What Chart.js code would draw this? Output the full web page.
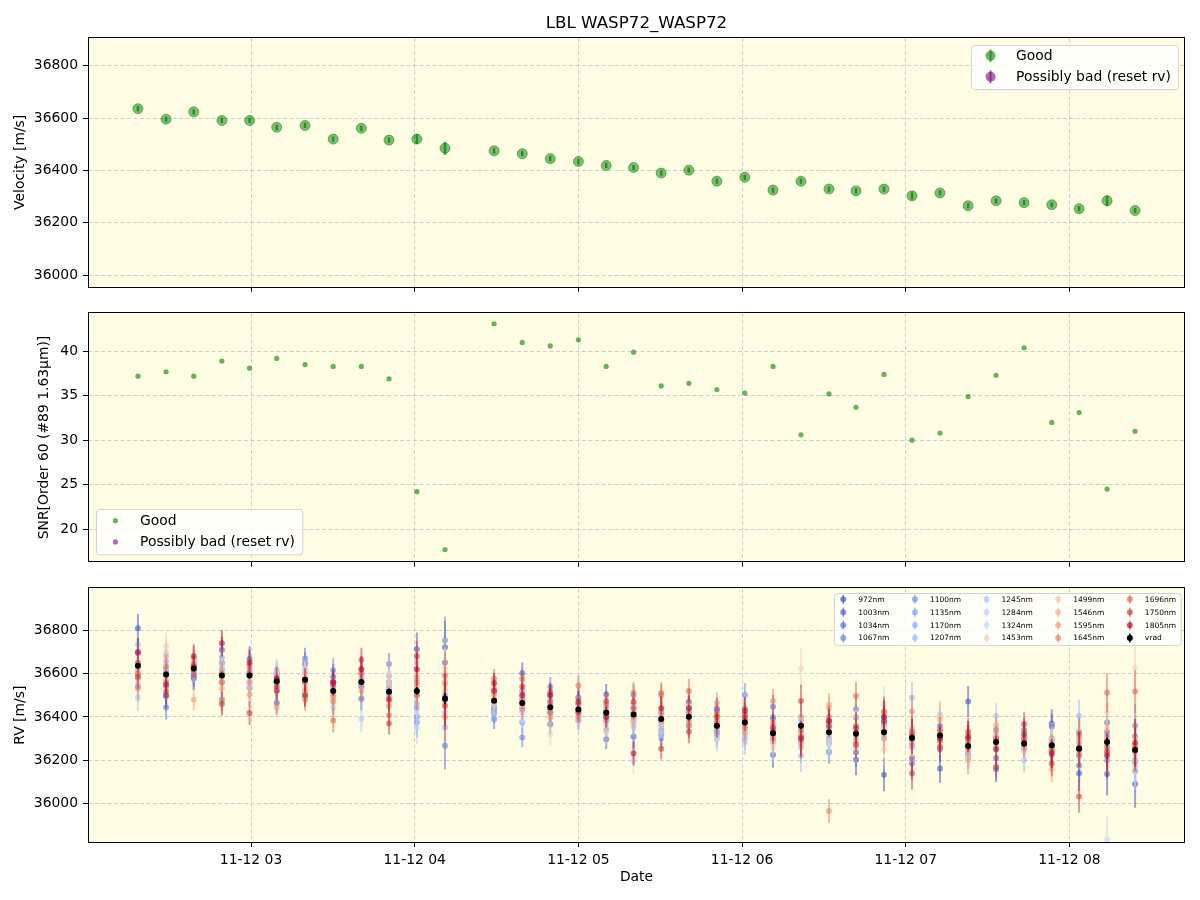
<!DOCTYPE html>
<html>
<head>
<meta charset="utf-8">
<title>LBL WASP72_WASP72</title>
<script src="https://cdn.jsdelivr.net/npm/chart.js@4.4.1/dist/chart.umd.min.js"></script>
<style>
  body { margin: 0; background: #fff; }
  #wrap { position: relative; width: 1200px; height: 900px; }
  canvas { position: absolute; left: 0; }
</style>
</head>
<body>
<div id="wrap">
  <canvas id="velChart" width="1200" height="300" style="top:0"></canvas>
  <canvas id="snrChart" width="1200" height="275" style="top:300px"></canvas>
  <canvas id="rvChart" width="1200" height="325" style="top:575px"></canvas>
</div>
<script>
// observation times, decimal hours on 11-12
const obsHours = [2.309, 2.481, 2.650, 2.822, 2.991, 3.157, 3.330, 3.502, 3.674, 3.843, 4.013, 4.185,
  4.485, 4.657, 4.828, 5.000, 5.170, 5.337, 5.506, 5.675, 5.846, 6.017, 6.189, 6.360,
  6.531, 6.696, 6.867, 7.038, 7.209, 7.381, 7.552, 7.723, 7.892, 8.059, 8.230, 8.401];
const hourTicks = [3, 4, 5, 6, 7, 8];

// top panel: LBL velocity
const velocity = [36636, 36596, 36624, 36591, 36591, 36565, 36572, 36520, 36561, 36516, 36520, 36485,
  36475, 36464, 36445, 36434, 36419, 36411, 36390, 36401, 36359, 36374, 36325, 36359,
  36329, 36322, 36329, 36303, 36314, 36265, 36284, 36277, 36269, 36254, 36284, 36247];
const velocityErr = [10, 10, 10, 10, 10, 10, 10, 10, 10, 10, 18, 25,
  10, 10, 10, 10, 10, 10, 10, 10, 10, 10, 10, 10,
  10, 10, 10, 14, 10, 10, 10, 10, 10, 10, 20, 10];
const velTicks = [36000, 36200, 36400, 36600, 36800];

// middle panel: SNR of order 60
const snr = [37.2, 37.7, 37.2, 38.9, 38.1, 39.2, 38.5, 38.3, 38.3, 36.9, 24.2, 17.7,
  43.1, 41.0, 40.6, 41.3, 38.3, 39.9, 36.1, 36.4, 35.7, 35.3, 38.3, 30.6,
  35.2, 33.7, 37.4, 30.0, 30.8, 34.9, 37.3, 40.4, 32.0, 33.1, 24.5, 31.0];
const snrTicks = [20, 25, 30, 35, 40];

// bottom panel: per-band RV
const wavelengths = [972, 1003, 1034, 1067, 1100, 1135, 1170, 1207, 1245, 1284, 1324, 1453, 1499, 1546, 1595, 1645, 1696, 1750, 1805];
const rv972 = [36810, 36500, 36580, 36710, 36667, 36464, 36500, 36584, 36540, 36520, 36713, 36722, 36520, 36602, 36470, 36420, 36503, 36308, 36380, 36469, 36430, 36400, 36225, 36310, 36350, 36202, 36133, 36210, 36162, 36471, 36159, 36290, 36369, 36140, 36136, 36090];
const rv1003 = [36694, 36495, 36600, 36560, 36600, 36520, 36648, 36560, 36484, 36560, 36560, 36651, 36440, 36520, 36366, 36489, 36297, 36400, 36420, 36440, 36380, 36412, 36447, 36360, 36382, 36236, 36380, 36185, 36250, 36230, 36210, 36340, 36355, 36175, 36374, 36310];
const rv1034 = [36540, 36443, 36590, 36650, 36535, 36602, 36670, 36520, 36600, 36645, 36400, 36267, 36389, 36480, 36420, 36460, 36400, 36501, 36320, 36420, 36440, 36440, 36390, 36300, 36300, 36397, 36400, 36300, 36359, 36260, 36340, 36300, 36250, 36220, 36330, 36200];
const rv1067 = [36600, 36612, 36640, 36480, 36560, 36560, 36600, 36616, 36560, 36540, 36374, 36754, 36415, 36305, 36539, 36385, 36420, 36440, 36340, 36360, 36330, 36501, 36400, 36400, 36330, 36435, 36360, 36280, 36300, 36280, 36300, 36270, 36300, 36280, 36310, 36359];
const rv1100 = [36650, 36560, 36578, 36620, 36600, 36580, 36560, 36561, 36580, 36500, 36500, 36500, 36430, 36374, 36500, 36400, 36340, 36420, 36300, 36400, 36320, 36360, 36320, 36340, 36240, 36330, 36300, 36330, 36330, 36250, 36280, 36260, 36280, 36330, 36200, 36150];
const rv1135 = [36580, 36657, 36610, 36673, 36620, 36540, 36580, 36540, 36620, 36589, 36460, 36560, 36460, 36440, 36440, 36490, 36380, 36460, 36360, 36380, 36340, 36380, 36300, 36380, 36280, 36360, 36340, 36320, 36290, 36300, 36310, 36250, 36260, 36260, 36260, 36190];
const rv1170 = [36620, 36600, 36630, 36600, 36640, 36600, 36640, 36500, 36540, 36530, 36440, 36351, 36440, 36500, 36460, 36460, 36440, 36380, 36410, 36420, 36300, 36300, 36340, 36260, 36236, 36300, 36380, 36260, 36350, 36220, 36260, 36300, 36240, 36250, 36230, 36195];
const rv1207 = [36733, 36685, 36660, 36648, 36610, 36619, 36620, 36530, 36600, 36520, 36402, 36480, 36420, 36460, 36480, 36440, 36460, 36360, 36400, 36440, 36350, 36320, 36310, 36221, 36300, 36280, 36320, 36489, 36330, 36240, 36340, 36198, 36290, 36405, 36280, 36230];
const rv1245 = [36490, 36620, 36670, 36625, 36590, 36590, 36580, 36443, 36390, 36560, 36650, 36420, 36450, 36420, 36430, 36420, 36400, 36420, 36380, 36400, 36330, 36282, 36280, 36360, 36320, 36320, 36350, 36300, 36412, 36230, 36405, 36280, 36220, 36300, 36300, 36260];
const rv1284 = [36560, 36540, 36650, 36580, 36560, 36570, 36560, 36480, 36560, 36500, 36351, 36600, 36470, 36380, 36420, 36400, 36360, 36350, 36360, 36380, 36310, 36340, 36300, 36300, 36270, 36260, 36330, 36350, 36290, 36260, 36250, 36260, 36280, 36240, 36240, 36170];
const rv1324 = [36600, 36700, 36620, 36600, 36540, 36600, 36600, 36520, 36580, 36540, 36420, 36460, 36460, 36470, 36400, 36380, 36430, 36198, 36330, 36410, 36300, 36360, 36260, 36380, 36300, 36340, 36458, 36280, 36320, 36210, 36270, 36240, 36270, 36310, 35833, 36200];
const rv1453 = [36640, 36726, 36660, 36640, 36580, 36610, 36590, 36500, 36620, 36600, 36600, 36627, 36500, 36450, 36320, 36440, 36330, 36460, 36400, 36450, 36360, 36440, 36320, 36622, 36330, 36400, 36350, 36320, 36300, 36280, 36300, 36300, 36300, 36290, 36420, 36627];
const rv1499 = [36610, 36680, 36657, 36564, 36600, 36570, 36600, 36520, 36600, 36560, 36560, 36560, 36480, 36520, 36440, 36420, 36420, 36420, 36440, 36380, 36380, 36420, 36330, 36400, 36350, 36360, 36251, 36300, 36400, 36240, 36270, 36260, 36270, 36270, 36350, 36300];
const rv1546 = [36590, 36590, 36640, 36532, 36560, 36550, 36539, 36504, 36560, 36474, 36520, 36520, 36470, 36460, 36460, 36460, 36440, 36380, 36420, 36420, 36400, 36380, 36287, 36340, 36440, 36300, 36300, 36340, 36389, 36250, 36330, 36290, 36250, 36300, 36300, 36260];
const rv1595 = [36530, 36569, 36480, 36470, 36503, 36443, 36560, 36490, 36520, 36500, 36540, 36549, 36500, 36480, 36397, 36400, 36385, 36400, 36380, 36390, 36380, 36330, 36300, 36310, 36455, 36280, 36330, 36270, 36320, 36201, 36360, 36280, 36159, 36260, 36280, 36240];
const rv1645 = [36600, 36540, 36610, 36560, 36630, 36560, 36520, 36470, 36600, 36450, 36581, 36400, 36530, 36435, 36470, 36430, 36460, 36512, 36500, 36360, 36464, 36350, 36474, 36330, 35965, 36330, 36420, 36425, 36290, 36290, 36290, 36270, 36260, 36230, 36260, 36270];
const rv1696 = [36650, 36633, 36640, 36600, 36600, 36540, 36480, 36383, 36560, 36408, 36500, 36589, 36576, 36576, 36420, 36545, 36420, 36440, 36510, 36520, 36412, 36410, 36369, 36280, 36400, 36497, 36425, 36330, 36340, 36300, 36300, 36300, 36240, 36320, 36512, 36517];
const rv1750 = [36585, 36516, 36630, 36460, 36418, 36523, 36500, 36550, 36664, 36369, 36680, 36450, 36520, 36540, 36515, 36420, 36474, 36470, 36253, 36333, 36400, 36390, 36330, 36474, 36360, 36270, 36380, 36140, 36262, 36330, 36170, 36366, 36185, 36032, 36240, 36250];
const rv1805 = [36700, 36550, 36680, 36740, 36650, 36580, 36570, 36560, 36620, 36480, 36620, 36480, 36555, 36500, 36500, 36470, 36400, 36231, 36440, 36440, 36360, 36430, 36350, 36300, 36380, 36350, 36400, 36310, 36300, 36310, 36250, 36320, 36230, 36250, 36220, 36280];
const rvBands = [rv972, rv1003, rv1034, rv1067, rv1100, rv1135, rv1170, rv1207, rv1245, rv1284, rv1324, rv1453, rv1499, rv1546, rv1595, rv1645, rv1696, rv1750, rv1805];
// typical band error at each epoch, and relative size per band
const rvErrEpoch = [60, 55, 50, 55, 55, 45, 50, 55, 55, 50, 70, 110, 45, 45, 45, 45, 45, 50, 50, 55, 50, 55, 55, 75, 55, 65, 70, 75, 60, 65, 55, 55, 60, 75, 90, 100];
const rvErrBand = [1.1, 1.0, 1.0, 1.0, 1.0, 0.95, 0.95, 1.0, 1.05, 1.1, 1.2, 1.25, 1.1, 1.0, 1.0, 1.0, 1.0, 1.0, 1.1];

const X_MIN = 2.004, X_MAX = 8.706;
const panelBg = 'rgb(254,252,226)';
const gridColor = 'rgba(176,176,192,0.6)';
const FS = 13.9;

Chart.defaults.font.family = 'DejaVu Sans';
Chart.defaults.color = '#000';
Chart.defaults.animation = false;

function coolwarm(t) {
  const stops = [[59,76,192],[98,130,234],[141,176,254],[184,208,249],[221,221,221],[245,196,173],[244,154,123],[222,96,77],[180,4,38]];
  const p = Math.min(Math.max(t, 0), 1) * (stops.length - 1);
  const i = Math.min(Math.floor(p), stops.length - 2);
  const f = p - i;
  return stops[i].map((c, k) => Math.round(c + (stops[i + 1][k] - c) * f));
}
function rgba(c, a) { return `rgba(${c[0]},${c[1]},${c[2]},${a})`; }
function pts(ys) { return obsHours.map((h, i) => ({ x: h, y: ys[i] })); }

// panel background + black frame
const panelPlugin = {
  id: 'panel',
  beforeDraw(chart) {
    const { ctx, chartArea: a } = chart;
    ctx.save();
    ctx.fillStyle = panelBg;
    ctx.fillRect(a.left, a.top, a.right - a.left, a.bottom - a.top);
    ctx.restore();
  },
  afterDraw(chart) {
    const { ctx, chartArea: a } = chart;
    ctx.save();
    ctx.strokeStyle = '#000';
    ctx.lineWidth = 1;
    ctx.strokeRect(Math.round(a.left) + 0.5, Math.round(a.top) - 0.5, Math.round(a.right - a.left) - 1, Math.round(a.bottom - a.top) + 1);
    ctx.restore();
  }
};

// vertical error bars drawn under each dataset's markers
const errorBarPlugin = {
  id: 'errorBars',
  beforeDatasetDraw(chart, args) {
    const ds = chart.data.datasets[args.index];
    if (!ds.errors) return;
    const { ctx, chartArea: a } = chart;
    const y = chart.scales.y;
    ctx.save();
    ctx.beginPath();
    ctx.rect(a.left, a.top, a.right - a.left, a.bottom - a.top);
    ctx.clip();
    ctx.strokeStyle = ds.errorColor;
    ctx.lineWidth = ds.errorWidth;
    args.meta.data.forEach((p, i) => {
      const v = ds.data[i].y, e = ds.errors[i];
      ctx.beginPath();
      ctx.moveTo(p.x, y.getPixelForValue(v - e));
      ctx.lineTo(p.x, y.getPixelForValue(v + e));
      ctx.stroke();
    });
    ctx.restore();
  }
};

// matplotlib-like legend box inside the axes
const boxLegendPlugin = {
  id: 'boxLegend',
  afterDraw(chart, args, o) {
    if (!o || !o.rows) return;
    const { ctx, chartArea: a } = chart;
    const items = chart.data.datasets;
    const cols = Math.ceil(items.length / o.rows);
    ctx.save();
    ctx.font = `${o.fontSize}px "DejaVu Sans"`;
    const colX = [];
    let x = 0, lastW = 0;
    for (let c = 0; c < cols; c++) {
      colX.push(x);
      let w = 0;
      for (let r = 0; r < o.rows; r++) {
        const it = items[c * o.rows + r];
        if (it) w = Math.max(w, ctx.measureText(it.label).width);
      }
      lastW = w;
      x += o.textX + w + o.colGap;
    }
    const bw = colX[cols - 1] + o.textX + lastW + o.padRight;
    const bh = o.firstRow + (o.rows - 1) * o.rowH + o.padBottom;
    const bx = o.corner[1] === 'r' ? a.right - o.dx - bw : a.left + o.dx;
    const by = o.corner[0] === 't' ? a.top + o.dy : a.bottom - o.dy - bh;
    ctx.fillStyle = 'rgba(255,255,255,0.8)';
    ctx.strokeStyle = '#d3d3d3';
    ctx.lineWidth = 1;
    ctx.beginPath();
    ctx.roundRect(Math.round(bx) + 0.5, Math.round(by) + 0.5, bw, bh, 3);
    ctx.fill();
    ctx.stroke();
    ctx.textBaseline = 'middle';
    ctx.textAlign = 'left';
    items.forEach((it, k) => {
      const c = Math.floor(k / o.rows), r = k % o.rows;
      const mx = bx + colX[c] + o.markerX;
      const my = by + o.firstRow + r * o.rowH;
      ctx.fillStyle = it.legendColor;
      if (o.marker === 'errorbar') {
        ctx.strokeStyle = it.legendColor;
        ctx.lineWidth = o.r > 4 ? 2 : 1.5;
        ctx.beginPath();
        ctx.moveTo(mx, my - o.r - 1.5);
        ctx.lineTo(mx, my + o.r + 1.5);
        ctx.stroke();
      }
      ctx.beginPath();
      ctx.arc(mx, my, o.r, 0, Math.PI * 2);
      ctx.fill();
      ctx.fillStyle = '#000';
      ctx.fillText(it.label, bx + colX[c] + o.textX, my + 0.5);
    });
    ctx.restore();
  }
};

const gridOpts = { color: gridColor, tickColor: '#000', tickLength: 5, tickWidth: 1 };
const borderOpts = { display: false, dash: [4, 2.5] };

function xScale(showLabels) {
  return {
    type: 'linear', min: X_MIN, max: X_MAX,
    afterBuildTicks: s => { s.ticks = hourTicks.map(v => ({ value: v })); },
    afterFit: s => { s.height = showLabels ? 58 : 8; },
    grid: gridOpts, border: borderOpts,
    ticks: { display: showLabels, padding: 5, maxRotation: 0, font: { size: FS }, color: '#000',
      callback: v => '11-12 ' + String(v).padStart(2, '0') },
    title: { display: showLabels, text: 'Date', font: { size: FS }, color: '#000', padding: { top: 0, bottom: 14.7 } }
  };
}

function yScale(min, max, ticks, label, titlePad) {
  return {
    type: 'linear', min: min, max: max,
    afterBuildTicks: s => { s.ticks = ticks.map(v => ({ value: v })); },
    afterFit: s => { s.width = 88; },
    grid: gridOpts, border: borderOpts,
    ticks: { padding: 5, font: { size: FS }, color: '#000', callback: v => String(v) },
    title: { display: true, text: label, font: { size: FS }, color: '#000', padding: { top: titlePad, bottom: 0 } }
  };
}

const green = [0, 128, 0], purple = [128, 0, 128];

// top: velocity
new Chart(document.getElementById('velChart'), {
  type: 'scatter',
  data: {
    datasets: [
      { label: 'Good', data: pts(velocity), errors: velocityErr, errorColor: rgba(green, 0.7), errorWidth: 2.5,
        pointRadius: 5, pointBorderWidth: 1, backgroundColor: rgba(green, 0.5), borderColor: rgba(green, 0.5),
        legendColor: rgba(green, 0.6) },
      { label: 'Possibly bad (reset rv)', data: [], pointRadius: 5, backgroundColor: rgba(purple, 0.5),
        borderColor: rgba(purple, 0.5), legendColor: rgba(purple, 0.6) }
    ]
  },
  options: {
    responsive: false, events: [],
    layout: { padding: { left: 0, right: 15, top: 0, bottom: 0 } },
    scales: { x: xScale(false), y: yScale(35956, 36906, velTicks, 'Velocity [m/s]', 12.5) },
    plugins: {
      legend: { display: false }, tooltip: { enabled: false },
      title: { display: true, text: 'LBL WASP72_WASP72', fullSize: false, color: '#000',
        font: { size: 16.7, weight: 'normal' }, padding: { top: 13.5, bottom: 4.5 } },
      boxLegend: { corner: 'tr', dx: 7, dy: 7, rows: 2, fontSize: FS, rowH: 21, firstRow: 10.7,
        markerX: 19.5, textX: 45, colGap: 0, padRight: 7, padBottom: 12.3, marker: 'errorbar', r: 5 }
    }
  },
  plugins: [panelPlugin, errorBarPlugin, boxLegendPlugin]
});

// middle: SNR
new Chart(document.getElementById('snrChart'), {
  type: 'scatter',
  data: {
    datasets: [
      { label: 'Good', data: pts(snr), pointRadius: 2.6, pointBorderWidth: 0,
        backgroundColor: rgba(green, 0.6), borderColor: rgba(green, 0.6), legendColor: rgba(green, 0.6) },
      { label: 'Possibly bad (reset rv)', data: [], pointRadius: 2.6, backgroundColor: rgba(purple, 0.6),
        borderColor: rgba(purple, 0.6), legendColor: rgba(purple, 0.6) }
    ]
  },
  options: {
    responsive: false, events: [],
    layout: { padding: { left: 0, right: 15, top: 12, bottom: 0 } },
    scales: { x: xScale(false), y: yScale(16.33, 44.27, snrTicks, 'SNR[Order 60 (#89 1.63μm)]', 36.5) },
    plugins: {
      legend: { display: false }, tooltip: { enabled: false },
      boxLegend: { corner: 'bl', dx: 7.7, dy: 7, rows: 2, fontSize: FS, rowH: 21.3, firstRow: 11.3,
        markerX: 19.7, textX: 44.3, colGap: 0, padRight: 7, padBottom: 12.7, marker: 'dot', r: 2.6 }
    }
  },
  plugins: [panelPlugin, boxLegendPlugin]
});

// bottom: per-band RV + vrad
const rvDatasets = wavelengths.map((w, s) => {
  const c = coolwarm((w - wavelengths[0]) / (wavelengths[wavelengths.length - 1] - wavelengths[0]));
  return {
    label: w + 'nm', data: pts(rvBands[s]),
    errors: rvErrEpoch.map(e => e * rvErrBand[s]), errorColor: rgba(c, 0.5), errorWidth: 2,
    pointRadius: 3, pointBorderWidth: 0, backgroundColor: rgba(c, 0.55), borderColor: rgba(c, 0.55),
    legendColor: rgba(c, 0.65), order: wavelengths.length - s
  };
});
rvDatasets.push({
  label: 'vrad', data: pts(velocity), errors: velocityErr, errorColor: '#000', errorWidth: 1.5,
  pointRadius: 3, pointBorderWidth: 0, backgroundColor: '#000', borderColor: '#000', legendColor: '#000', order: 0
});

new Chart(document.getElementById('rvChart'), {
  type: 'scatter',
  data: { datasets: rvDatasets },
  options: {
    responsive: false, events: [],
    layout: { padding: { left: 0, right: 15, top: 12, bottom: 0 } },
    scales: { x: xScale(true), y: yScale(35822, 36994, velTicks, 'RV [m/s]', 12.5) },
    plugins: {
      legend: { display: false }, tooltip: { enabled: false },
      boxLegend: { corner: 'tr', dx: 4, dy: 4.3, rows: 4, fontSize: 7.5, rowH: 12.9, firstRow: 6.7,
        markerX: 9, textX: 24, colGap: 16.5, padRight: 5, padBottom: 6.5, marker: 'errorbar', r: 3 }
    }
  },
  plugins: [panelPlugin, errorBarPlugin, boxLegendPlugin]
});
</script>
</body>
</html>
